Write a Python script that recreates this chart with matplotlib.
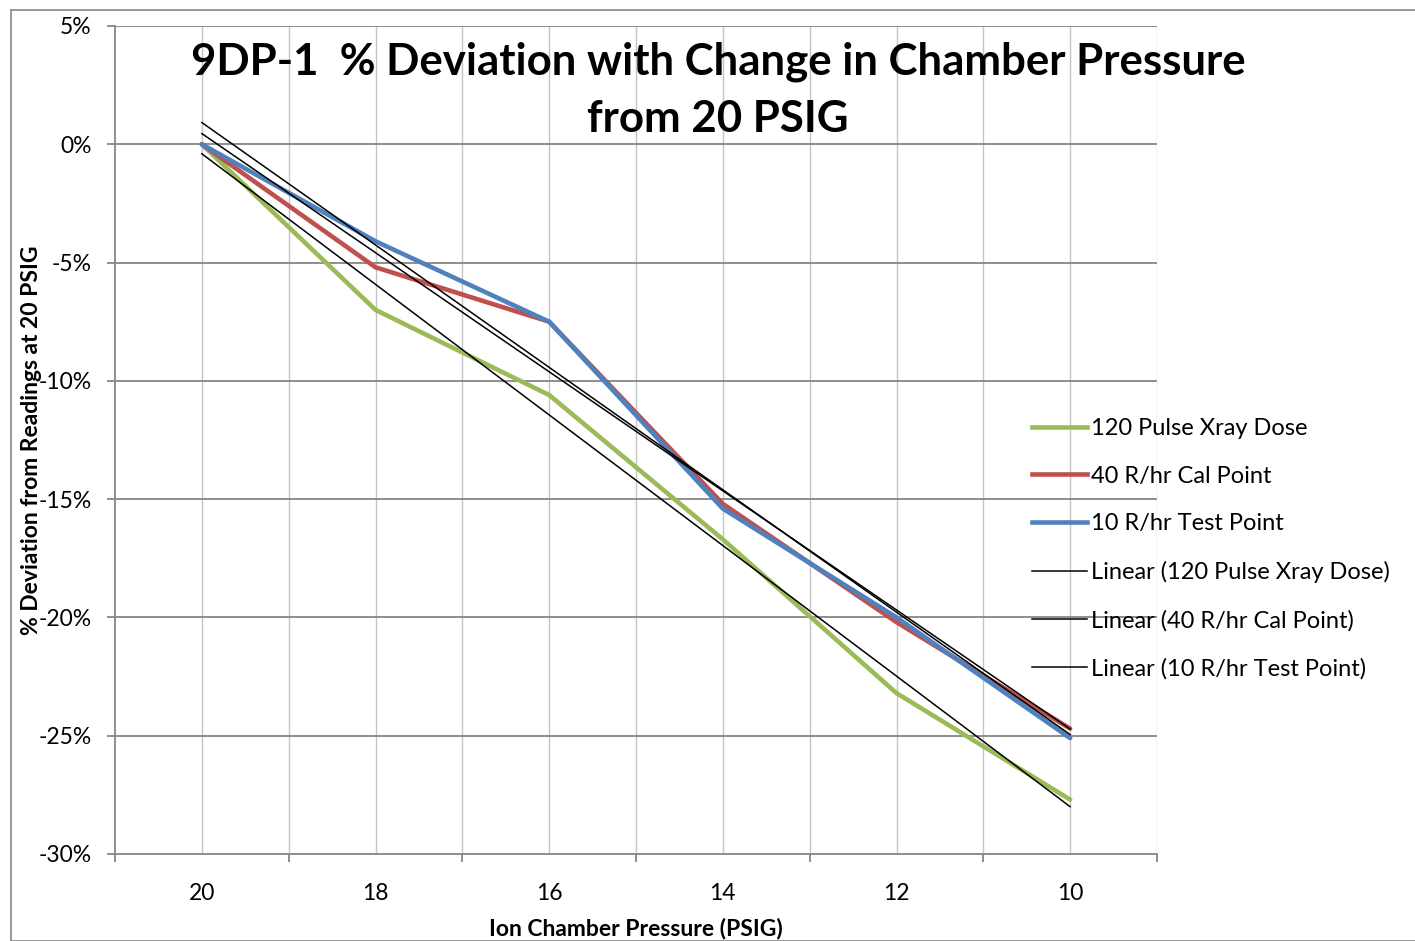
import numpy as np
import matplotlib
matplotlib.use("Agg")
import matplotlib.pyplot as plt
from matplotlib.patches import Rectangle
from matplotlib.lines import Line2D

plt.rcParams['font.family'] = ['Lato', 'DejaVu Sans']

pressure = [20, 18, 16, 14, 12, 10]
pulse_xray = [0.0, -7.0, -10.6, -16.7, -23.2, -27.7]
cal_point = [0.0, -5.2, -7.5, -15.2, -20.2, -24.7]
test_point = [0.0, -4.1, -7.5, -15.4, -20.0, -25.1]

names = ["120 Pulse Xray Dose", "40 R/hr Cal Point", "10 R/hr Test Point"]
colors = ["#9BBB59", "#C0504D", "#4F81BD"]
series = [pulse_xray, cal_point, test_point]

W, H = 1415, 941
fig = plt.figure(figsize=(W / 100, H / 100), dpi=100)
ax = fig.add_axes([115 / W, 1 - 854 / H, (1157 - 115) / W, (854 - 26) / H])

# chart border
fig.patches.append(Rectangle((11 / W, 0), 1.2, 1 - 10 / H, transform=fig.transFigure,
                             fill=False, edgecolor="#868686", linewidth=1.2))

x = np.array(pressure, dtype=float)
handles = []
for name, col, ys in zip(names, colors, series):
    ax.plot(x, ys, color=col, lw=3.3, solid_capstyle="round", zorder=3)
    handles.append(Line2D([], [], color=col, lw=3.3))

trend_handles = []
for name, ys in zip(names, series):
    k, b = np.polyfit(x, ys, 1)
    ax.plot(x, k * x + b, color="black", lw=1.1, zorder=4)
    trend_handles.append(Line2D([], [], color="black", lw=1.1))

ax.set_xlim(21, 9)
ax.set_ylim(-30, 5)

# gridlines
for v in range(9, 21):
    ax.axvline(v, color="#C4C4C4", lw=1.0, zorder=1)
for v in range(-25, 6, 5):
    ax.axhline(v, color="#868686", lw=1.3, zorder=1)

for s in ["top", "right"]:
    ax.spines[s].set_visible(False)
for s in ["left", "bottom"]:
    ax.spines[s].set_color("#868686")
    ax.spines[s].set_linewidth(1.3)

ax.set_yticks(range(-30, 6, 5))
ax.set_yticklabels([f"{v}%" for v in range(-30, 6, 5)], fontsize=16.5)
ax.set_xticks(range(9, 22, 2))
ax.set_xticklabels([])
ax.set_xticks(pressure, minor=True)
ax.set_xticklabels([str(p) for p in pressure], minor=True, fontsize=16.5)
ax.tick_params(axis="x", which="minor", length=0, pad=21)
ax.tick_params(axis="x", which="major", length=6, color="#868686", width=1.3)
ax.tick_params(axis="y", length=6, color="#868686", width=1.3, pad=11)

ax.set_xlabel("Ion Chamber Pressure (PSIG)", fontsize=16.5, fontweight="bold", labelpad=10)
fig.text(32 / W, 1 - 440 / H, "% Deviation from Readings at 20 PSIG", rotation=90,
         fontsize=16.5, fontweight="bold", ha="center", va="center")

fig.text(718 / W, 1 - 62 / H, "9DP-1  % Deviation with Change in Chamber Pressure",
         fontsize=31.5, fontweight="bold", ha="center", va="center")
fig.text(718 / W, 1 - 119 / H, "from 20 PSIG",
         fontsize=31.5, fontweight="bold", ha="center", va="center")

labels = names + [f"Linear ({n})" for n in names]
fig.legend(handles + trend_handles, labels, loc="upper left",
           bbox_to_anchor=(1032 / W, 1 - 418 / H), frameon=False, fontsize=17,
           handlelength=2.35, handletextpad=0.15, labelspacing=1.13, borderpad=0,
           borderaxespad=0)

fig.savefig("out.png", dpi=100)
